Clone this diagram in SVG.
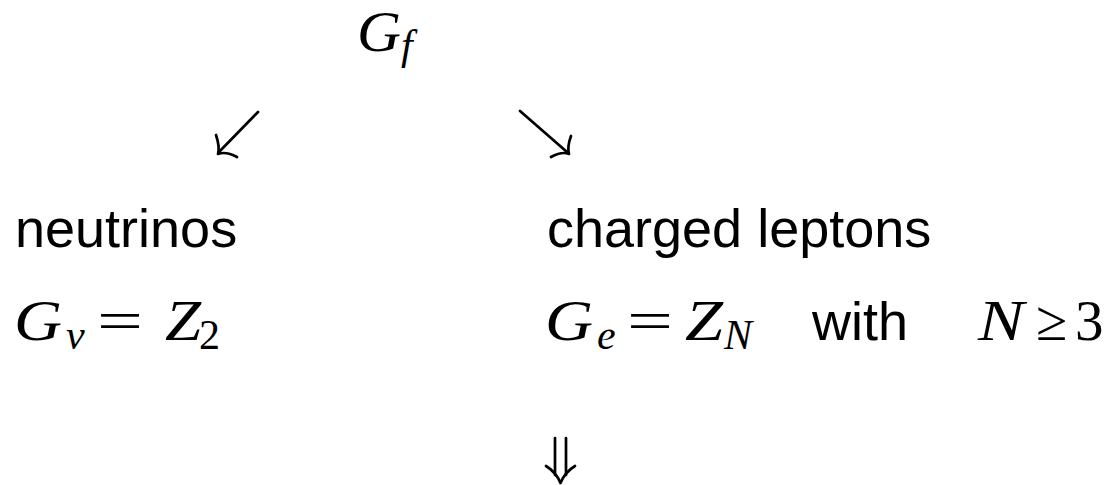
<svg xmlns="http://www.w3.org/2000/svg" width="1111" height="485" viewBox="0 0 1111 485">
<style>
.m{font-family:"Liberation Serif","Times New Roman",serif;font-style:italic;fill:#000}
.r{font-family:"Liberation Serif","Times New Roman",serif;fill:#000}
.s{font-family:"Liberation Sans",Arial,sans-serif;fill:#000}
.big{font-size:57px}
.sub{font-size:42px}
.lbl{font-size:54px}
.c{fill:none;stroke:#000;stroke-width:2.7;stroke-linecap:round;stroke-linejoin:round}
</style>
<rect width="1111" height="485" fill="#fff"/>
<g id="gf">
<text class="m big" x="357" y="51" textLength="44" lengthAdjust="spacingAndGlyphs">G</text>
<text class="m sub" x="401" y="59">f</text>
</g>
<g id="neutrinos">
<text class="s lbl" x="15" y="247">neutrinos</text>
<text class="m big" x="14" y="340" textLength="48" lengthAdjust="spacingAndGlyphs">G</text>
<text class="m sub" x="66" y="349">ν</text>
<text class="r big" x="97" y="340" textLength="46" lengthAdjust="spacingAndGlyphs">=</text>
<text class="m big" x="165" y="340" textLength="36" lengthAdjust="spacingAndGlyphs">Z</text>
<text class="r sub" x="199" y="349">2</text>
</g>
<g id="charged">
<text class="s lbl" x="547" y="247">charged leptons</text>
<text class="m big" x="545" y="340" textLength="48" lengthAdjust="spacingAndGlyphs">G</text>
<text class="m sub" x="597" y="349">e</text>
<text class="r big" x="627" y="340" textLength="46" lengthAdjust="spacingAndGlyphs">=</text>
<text class="m big" x="685" y="340" textLength="38" lengthAdjust="spacingAndGlyphs">Z</text>
<text class="m sub" x="724" y="349">N</text>
<text class="s lbl" x="812" y="340">with</text>
<text class="m big" x="978" y="340" textLength="46" lengthAdjust="spacingAndGlyphs">N</text>
<text class="r big" x="1036" y="340">≥</text>
<text class="r big" x="1075" y="340">3</text>
</g>
<g id="connectors">
<path class="c" d="M258,112 L219,152"/>
<path class="c" d="M216,135 Q220,147 218,154 Q226,151 237,157"/>
<path class="c" d="M520,111 L567,152"/>
<path class="c" d="M571,136 Q567,147 569,154 Q562,151 551,157"/>
<path class="c" d="M555,438 L555,475 M566,438 L566,475"/>
<path class="c" d="M546,466 Q556,472 560.5,483 Q565,472 575,466"/>
</g>
</svg>
